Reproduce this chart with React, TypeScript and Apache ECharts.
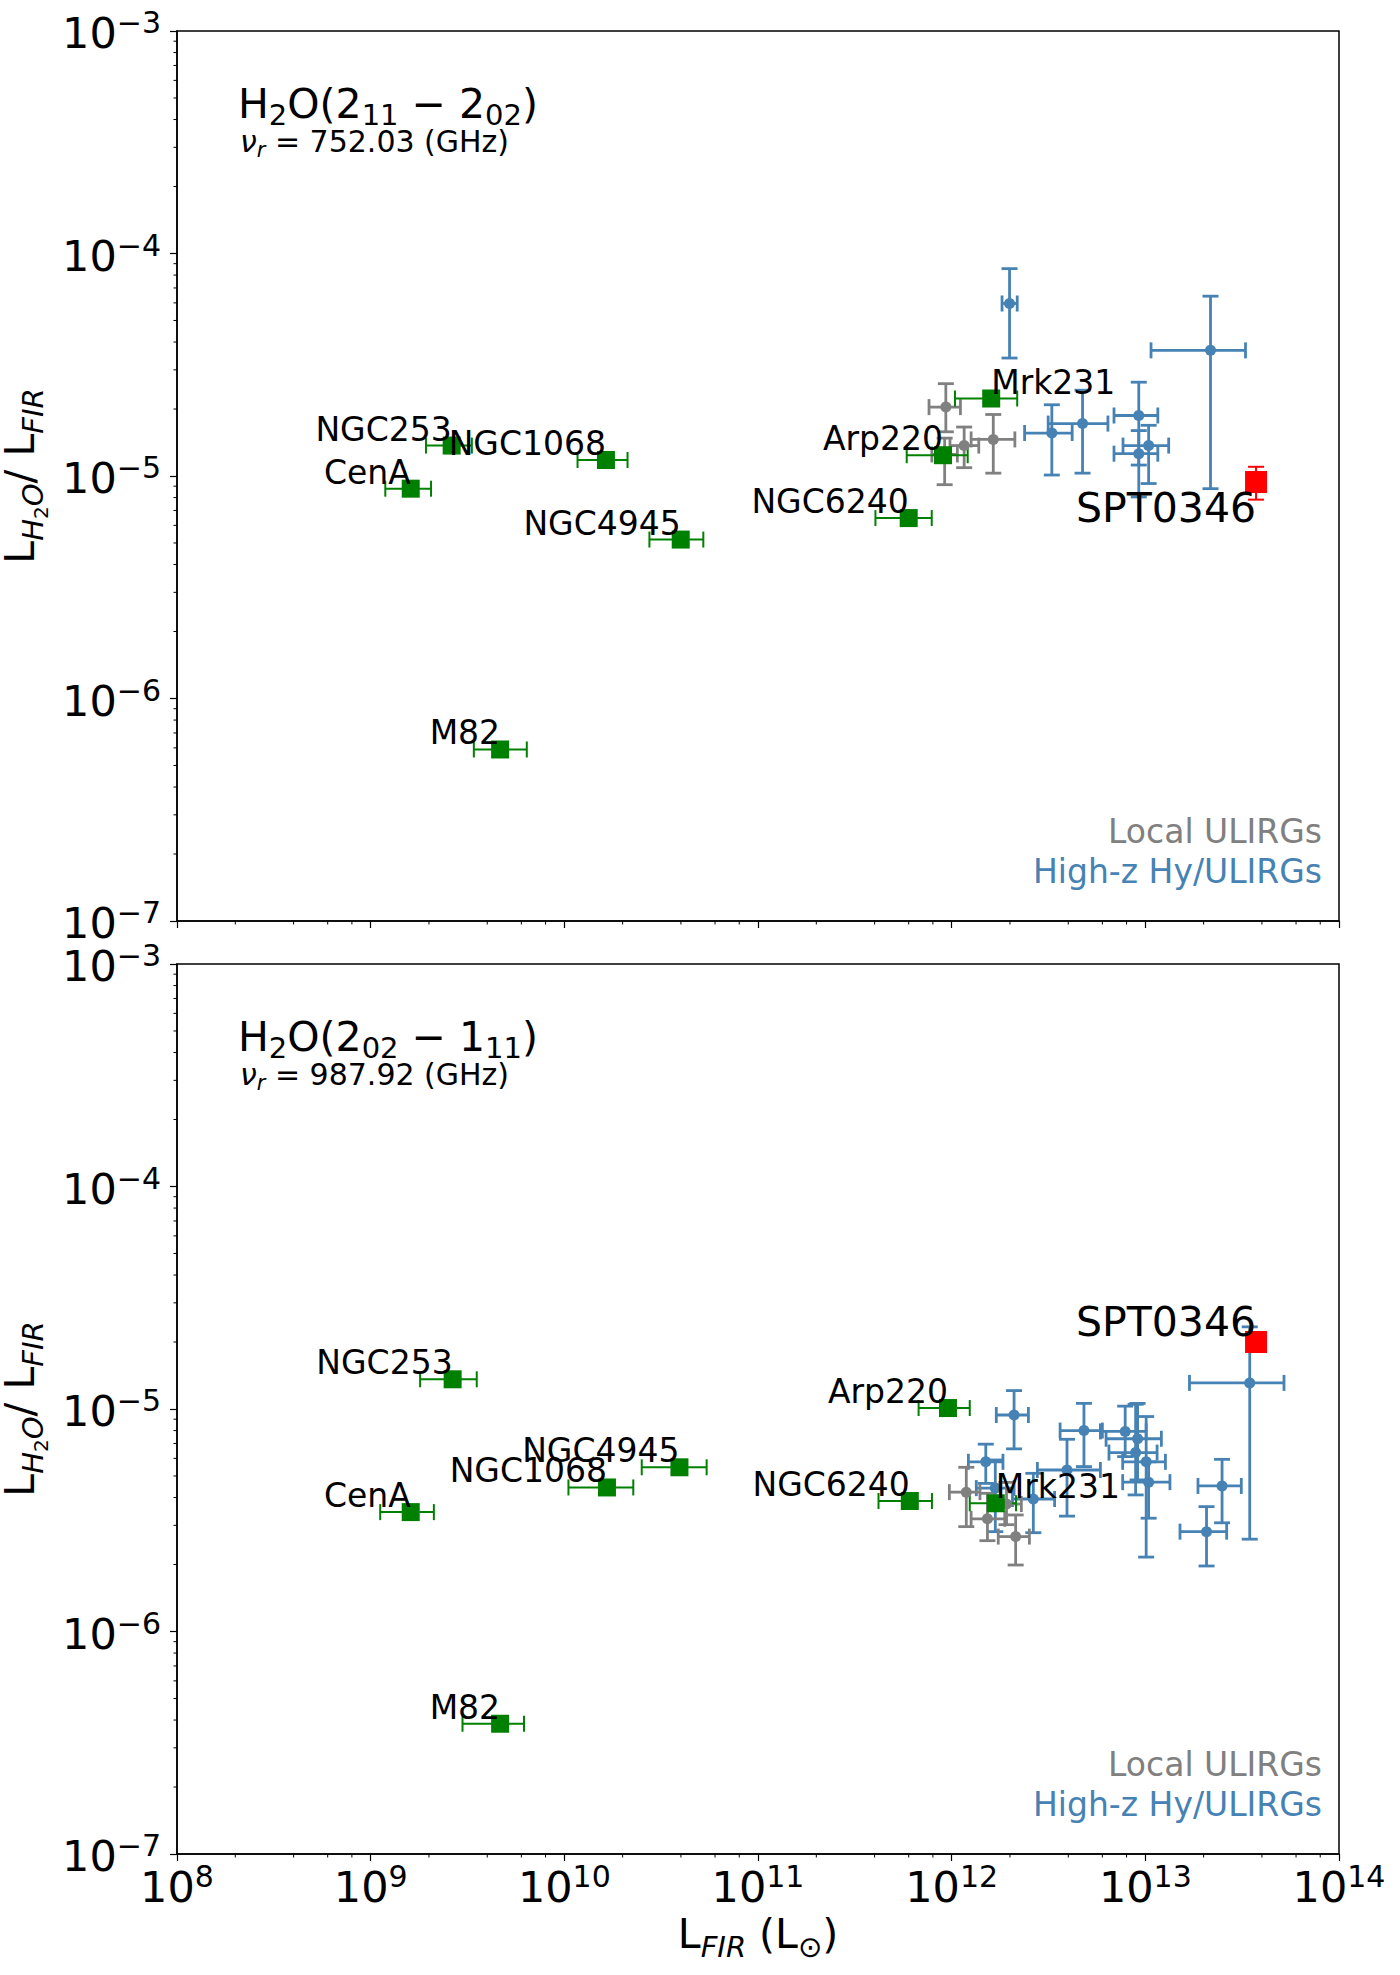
import React, { useEffect, useRef } from 'react';
import * as echarts from 'echarts';

// ---------- data ----------
// Nearby galaxies (green squares), shared name order for both transitions
const localNames = ['NGC253', 'CenA', 'NGC1068', 'NGC4945', 'M82', 'NGC6240', 'Arp220', 'Mrk231'];

// H2O(2_11-2_02), 752.03 GHz
const localLfirA = [2.62e9, 1.61e9, 1.64e10, 3.99e10, 4.66e9, 6.0e11, 9.02e11, 1.6e12];
const localLfirLoA = [1.93e9, 1.19e9, 1.17e10, 2.75e10, 3.41e9, 4.04e11, 5.86e11, 1.04e12];
const localLfirHiA = [3.33e9, 2.05e9, 2.12e10, 5.22e10, 6.4e9, 7.89e11, 1.21e12, 2.18e12];
const localRatioA = [1.37e-5, 8.77e-6, 1.18e-5, 5.18e-6, 5.9e-7, 6.47e-6, 1.24e-5, 2.23e-5];

const ulirgLfirA = [9.33e11, 9.2e11, 1.16e12, 1.64e12];
const ulirgLfirLoA = [7.64e11, 7.9e11, 9.8e11, 1.26e12];
const ulirgLfirHiA = [1.11e12, 1.07e12, 1.38e12, 2.12e12];
const ulirgRatioA = [2.04e-5, 1.25e-5, 1.37e-5, 1.46e-5];
const ulirgRatioLoA = [1.58e-5, 9.14e-6, 1.09e-5, 1.03e-5];
const ulirgRatioHiA = [2.6e-5, 1.48e-5, 1.66e-5, 1.89e-5];

const highzLfirA = [1.99e12, 2.17e13, 9.25e12, 1.04e13, 9.25e12, 4.74e12, 3.29e12];
const highzLfirLoA = [1.82e12, 1.07e13, 6.89e12, 7.67e12, 6.89e12, 3.15e12, 2.38e12];
const highzLfirHiA = [2.18e12, 3.29e13, 1.16e13, 1.32e13, 1.16e13, 6.41e12, 4.19e12];
const highzRatioA = [5.96e-5, 3.67e-5, 1.87e-5, 1.37e-5, 1.26e-5, 1.72e-5, 1.56e-5];
const highzRatioLoA = [3.39e-5, 8.77e-6, 1.12e-5, 9.25e-6, 8.05e-6, 1.03e-5, 1.01e-5];
const highzRatioHiA = [8.55e-5, 6.43e-5, 2.64e-5, 1.69e-5, 1.6e-5, 2.43e-5, 2.09e-5];

const sptLfirA = 3.73e13;
const sptRatioA = 9.4e-6;
const sptRatioLoA = 7.83e-6;
const sptRatioHiA = 1.1e-5;

// H2O(2_02-1_11), 987.92 GHz
const localLfirB = [2.65e9, 1.61e9, 1.66e10, 3.93e10, 4.66e9, 6.08e11, 9.57e11, 1.69e12];
const localLfirLoB = [1.8e9, 1.12e9, 1.05e10, 2.51e10, 2.98e9, 4.19e11, 6.75e11, 1.24e12];
const localLfirHiB = [3.53e9, 2.12e9, 2.27e10, 5.43e10, 6.19e9, 7.91e11, 1.24e12, 2.15e12];
const localRatioB = [1.36e-5, 3.44e-6, 4.44e-6, 5.47e-6, 3.85e-7, 3.86e-6, 1.01e-5, 3.77e-6];

const ulirgLfirB = [1.19e12, 1.53e12, 2.14e12, 1.92e12];
const ulirgLfirLoB = [9.73e11, 1.26e12, 1.74e12, 1.62e12];
const ulirgLfirHiB = [1.4e12, 1.88e12, 2.52e12, 2.29e12];
const ulirgRatioB = [4.23e-6, 3.21e-6, 2.67e-6, 3.74e-6];
const ulirgRatioLoB = [2.96e-6, 2.56e-6, 1.99e-6, 3.02e-6];
const ulirgRatioHiB = [5.47e-6, 4.18e-6, 3.34e-6, 4.68e-6];

const highzLfirB = [3.46e13, 2.49e13, 2.07e13, 1.04e13, 1.01e13, 8.91e12, 9.12e12, 7.87e12, 4.82e12, 3.94e12, 2.1e12, 1.5e12, 1.68e12, 2.64e12];
const highzLfirLoB = [1.69e13, 1.87e13, 1.51e13, 7.64e12, 7.64e12, 6.49e12, 6.27e12, 5.86e12, 3.63e12, 2.77e12, 1.7e12, 1.22e12, 1.34e12, 2.06e12];
const highzLfirHiB = [5.2e13, 3.13e13, 2.63e13, 1.34e13, 1.27e13, 1.15e13, 1.21e13, 1.01e13, 6.0e12, 5.86e12, 2.49e12, 1.84e12, 2.1e12, 3.4e12];
const highzRatioB = [1.31e-5, 4.51e-6, 2.81e-6, 4.69e-6, 5.79e-6, 6.37e-6, 7.35e-6, 7.93e-6, 8.0e-6, 5.32e-6, 9.4e-6, 5.79e-6, 4.41e-6, 3.94e-6];
const highzRatioLoB = [2.6e-6, 3.08e-6, 1.97e-6, 3.23e-6, 2.16e-6, 4.11e-6, 4.8e-6, 6.11e-6, 5.51e-6, 3.3e-6, 6.62e-6, 4.63e-6, 2.81e-6, 2.78e-6];
const highzRatioHiB = [2.34e-5, 5.94e-6, 3.64e-6, 5.79e-6, 9.25e-6, 1.05e-5, 1.06e-5, 1.03e-5, 1.06e-5, 7.31e-6, 1.21e-5, 6.95e-6, 5.9e-6, 5.14e-6];

const sptLfirB = 3.73e13;
const sptRatioB = 2.0e-5;

// Axis structure
const xDecades = [8, 9, 10, 11, 12, 13];
const xMinorMantissas = [2, 4, 6, 8];
const yDecades = [-7, -6, -5, -4];
const yMinorMantissas = [2, 3, 4, 5, 6, 7, 8, 9];
const xRange = [1e8, 1e14];
const yRange = [1e-7, 1e-3];

const lineTitles = ['{b|H}{s|2}{b|O(2}{s|11}{b| − 2}{s|02}{b|)}', '{b|H}{s|2}{b|O(2}{s|02}{b| − 1}{s|11}{b|)}'];
const lineFreqs = ['752.03', '987.92'];

// ---------- styling ----------
const FONT = 'DejaVu Sans';
const GREEN = '#008000';
const BLUE = '#4682b4';
const GREY = '#808080';
const RED = '#ff0000';
const GRID_LEFT = 177;
const GRID_W = 1162;
const GRID_H = 890;
const PANEL_TOPS = [31, 964];

const leftAnchored = new Set(['Mrk231']);

type Row = number[];

function zipRows(x: number[], y: number[], xlo?: number[], xhi?: number[], ylo?: number[], yhi?: number[]): Row[] {
  return x.map((v, i) => [
    v,
    y[i],
    xlo ? xlo[i] : v,
    xhi ? xhi[i] : v,
    ylo ? ylo[i] : y[i],
    yhi ? yhi[i] : y[i],
  ]);
}

function errorRenderer(color: string, width: number, cap: number) {
  return (_params: any, api: any) => {
    const x = api.value(0);
    const y = api.value(1);
    const xlo = api.value(2);
    const xhi = api.value(3);
    const ylo = api.value(4);
    const yhi = api.value(5);
    const style = { stroke: color, lineWidth: width, fill: 'none' };
    const seg = (x1: number, y1: number, x2: number, y2: number) => ({
      type: 'line',
      shape: { x1, y1, x2, y2 },
      style,
    });
    const kids: any[] = [];
    if (xlo !== xhi) {
      const a = api.coord([xlo, y]);
      const b = api.coord([xhi, y]);
      kids.push(seg(a[0], a[1], b[0], b[1]));
      kids.push(seg(a[0], a[1] - cap, a[0], a[1] + cap));
      kids.push(seg(b[0], b[1] - cap, b[0], b[1] + cap));
    }
    if (ylo !== yhi) {
      const a = api.coord([x, ylo]);
      const b = api.coord([x, yhi]);
      kids.push(seg(a[0], a[1], b[0], b[1]));
      kids.push(seg(a[0] - cap, a[1], a[0] + cap, a[1]));
      kids.push(seg(b[0] - cap, b[1], b[0] + cap, b[1]));
    }
    return { type: 'group', children: kids };
  };
}

function errorSeries(idx: number, rows: Row[], color: string, width: number, cap: number) {
  return {
    type: 'custom',
    xAxisIndex: idx,
    yAxisIndex: idx,
    clip: false,
    silent: true,
    encode: { x: 0, y: 1 },
    data: rows,
    renderItem: errorRenderer(color, width, cap),
  };
}

function minorTickSeries(idx: number) {
  const xs: number[][] = [];
  xDecades.forEach((d) => xMinorMantissas.forEach((m) => xs.push([m * Math.pow(10, d), yRange[0]])));
  const ys: number[][] = [];
  yDecades.forEach((d) => yMinorMantissas.forEach((m) => ys.push([xRange[0], m * Math.pow(10, d)])));
  const tick = (dx: number, dy: number) => (_p: any, api: any) => {
    const p = api.coord([api.value(0), api.value(1)]);
    return {
      type: 'line',
      shape: { x1: p[0], y1: p[1], x2: p[0] + dx, y2: p[1] + dy },
      style: { stroke: '#000', lineWidth: 1 },
    };
  };
  return [
    { type: 'custom', xAxisIndex: idx, yAxisIndex: idx, clip: false, silent: true, encode: { x: 0, y: 1 }, data: xs, renderItem: tick(0, 3.5) },
    { type: 'custom', xAxisIndex: idx, yAxisIndex: idx, clip: false, silent: true, encode: { x: 0, y: 1 }, data: ys, renderItem: tick(-3.5, 0) },
  ];
}

function powerLabel(v: number) {
  const e = Math.round(Math.log10(v));
  const s = e < 0 ? '−' + -e : String(e);
  return '{b|10}{p|' + s + '}';
}

const powerRich = {
  b: { fontFamily: FONT, fontSize: 43, color: '#000', verticalAlign: 'top', padding: [4, 0, 0, 0] },
  p: { fontFamily: FONT, fontSize: 30, color: '#000', verticalAlign: 'top' },
};

const nameRich = {
  b: { fontFamily: FONT, fontSize: 41, color: '#000', verticalAlign: 'top' },
  s: { fontFamily: FONT, fontSize: 29, fontStyle: 'italic', color: '#000', verticalAlign: 'top', padding: [19, 0, 0, 0] },
  u: { fontFamily: FONT, fontSize: 29, color: '#000', verticalAlign: 'top', padding: [19, 0, 0, 0] },
  ss: { fontFamily: FONT, fontSize: 20, color: '#000', verticalAlign: 'top', padding: [32, 0, 0, 0] },
};

const titleRich = {
  b: { font: '41px "DejaVu Sans"', fill: '#000', verticalAlign: 'top' },
  s: { font: '29px "DejaVu Sans"', fill: '#000', verticalAlign: 'top', padding: [17, 0, 0, 0] },
};

const freqRich = {
  v: { font: 'italic 30px "DejaVu Sans"', fill: '#000', verticalAlign: 'top' },
  r: { font: 'italic 21px "DejaVu Sans"', fill: '#000', verticalAlign: 'top', padding: [13, 0, 0, 0] },
  t: { font: '30px "DejaVu Sans"', fill: '#000', verticalAlign: 'top' },
};

function buildOption() {
  const panels = [
    {
      localL: localLfirA, localLo: localLfirLoA, localHi: localLfirHiA, localR: localRatioA,
      ulirg: zipRows(ulirgLfirA, ulirgRatioA, ulirgLfirLoA, ulirgLfirHiA, ulirgRatioLoA, ulirgRatioHiA),
      highz: zipRows(highzLfirA, highzRatioA, highzLfirLoA, highzLfirHiA, highzRatioLoA, highzRatioHiA),
      spt: zipRows([sptLfirA], [sptRatioA], undefined, undefined, [sptRatioLoA], [sptRatioHiA]),
      sptAlign: 'top',
      sptPad: [6, 0, 0, 0],
    },
    {
      localL: localLfirB, localLo: localLfirLoB, localHi: localLfirHiB, localR: localRatioB,
      ulirg: zipRows(ulirgLfirB, ulirgRatioB, ulirgLfirLoB, ulirgLfirHiB, ulirgRatioLoB, ulirgRatioHiB),
      highz: zipRows(highzLfirB, highzRatioB, highzLfirLoB, highzLfirHiB, highzRatioLoB, highzRatioHiB),
      spt: zipRows([sptLfirB], [sptRatioB]),
      sptAlign: 'bottom',
      sptPad: [0, 0, 0, 0],
    },
  ];

  const grid = PANEL_TOPS.map((t) => ({
    left: GRID_LEFT,
    top: t,
    width: GRID_W,
    height: GRID_H,
    containLabel: false,
    outerBoundsMode: 'none',
    show: true,
    borderColor: '#000',
    borderWidth: 1.5,
    backgroundColor: 'transparent',
  }));

  const xAxis = PANEL_TOPS.map((_t, i) => ({
    type: 'log',
    logBase: 10,
    gridIndex: i,
    min: xRange[0],
    max: xRange[1],
    splitNumber: 6,
    axisLine: { show: true, lineStyle: { color: '#000', width: 1.5 } },
    axisTick: { show: true, inside: false, length: 7, lineStyle: { color: '#000', width: 1.2 } },
    splitLine: { show: false },
    axisLabel: {
      show: i === 1,
      margin: 7,
      formatter: powerLabel,
      rich: powerRich,
      align: 'center',
    },
    name: i === 1 ? '{b|L}{s|FIR}{b| (L}{u|⊙}{b|)}' : '',
    nameLocation: 'middle',
    nameGap: 59,
    nameTextStyle: { rich: nameRich },
  }));

  const yAxis = PANEL_TOPS.map((_t, i) => ({
    type: 'log',
    logBase: 10,
    gridIndex: i,
    min: yRange[0],
    max: yRange[1],
    splitNumber: 4,
    axisLine: { show: true, lineStyle: { color: '#000', width: 1.5 } },
    axisTick: { show: true, inside: false, length: 7, lineStyle: { color: '#000', width: 1.2 } },
    splitLine: { show: false },
    axisLabel: {
      show: true,
      margin: 16,
      formatter: powerLabel,
      rich: powerRich,
      align: 'right',
    },
    name: '{b|L}{s|H}{ss|2}{s|O}{b|/ L}{s|FIR}',
    nameLocation: 'middle',
    nameRotate: 90,
    nameGap: 116,
    nameTextStyle: { rich: nameRich },
  }));

  const series: any[] = [];
  panels.forEach((p, i) => {
    series.push(...minorTickSeries(i));

    series.push(errorSeries(i, p.highz, BLUE, 2.8, 8));
    series.push({
      type: 'scatter', xAxisIndex: i, yAxisIndex: i, symbol: 'circle', symbolSize: 11,
      itemStyle: { color: BLUE, opacity: 1 }, data: p.highz.map((r) => [r[0], r[1]]), silent: true,
    });

    series.push(errorSeries(i, p.ulirg, GREY, 2.8, 8));
    series.push({
      type: 'scatter', xAxisIndex: i, yAxisIndex: i, symbol: 'circle', symbolSize: 11,
      itemStyle: { color: GREY, opacity: 1 }, data: p.ulirg.map((r) => [r[0], r[1]]), silent: true,
    });

    const localRows = zipRows(p.localL, p.localR, p.localLo, p.localHi);
    series.push(errorSeries(i, localRows, GREEN, 2, 8));
    series.push({
      type: 'scatter', xAxisIndex: i, yAxisIndex: i, symbol: 'rect', symbolSize: 18,
      itemStyle: { color: GREEN, opacity: 1 }, silent: true,
      label: {
        show: true, formatter: '{b}', position: ['50%', '50%'], verticalAlign: 'bottom',
        fontFamily: FONT, fontSize: 33, color: '#000',
      },
      data: localNames.map((n, k) => ({
        name: n,
        value: [p.localL[k], p.localR[k]],
        label: { align: leftAnchored.has(n) ? 'left' : 'right' },
      })),
    });

    series.push(errorSeries(i, p.spt, RED, 2, 8));
    series.push({
      type: 'scatter', xAxisIndex: i, yAxisIndex: i, symbol: 'rect', symbolSize: 22,
      itemStyle: { color: RED, opacity: 1 }, silent: true,
      label: {
        show: true, formatter: '{b}', position: ['50%', '50%'], align: 'right', verticalAlign: p.sptAlign,
        padding: p.sptPad, fontFamily: FONT, fontSize: 41, color: '#000',
      },
      data: [{ name: 'SPT0346', value: [p.spt[0][0], p.spt[0][1]] }],
    });
  });

  const graphic: any[] = [];
  PANEL_TOPS.forEach((t, i) => {
    graphic.push({
      type: 'text', x: 238, y: t + 52, silent: true,
      style: { text: lineTitles[i], rich: titleRich, align: 'left', verticalAlign: 'top', textAlign: 'left', textVerticalAlign: 'top' },
    });
    graphic.push({
      type: 'text', x: 240, y: t + 95, silent: true,
      style: {
        text: '{v|ν}{r|r}{t| = ' + lineFreqs[i] + ' (GHz)}', rich: freqRich,
        align: 'left', verticalAlign: 'top', textAlign: 'left', textVerticalAlign: 'top',
      },
    });
    graphic.push({
      type: 'text', x: 1322, y: t + GRID_H - 90, silent: true,
      style: {
        text: 'Local ULIRGs', font: '33px "DejaVu Sans"', fill: GREY,
        align: 'right', verticalAlign: 'middle', textAlign: 'right', textVerticalAlign: 'middle',
      },
    });
    graphic.push({
      type: 'text', x: 1322, y: t + GRID_H - 50, silent: true,
      style: {
        text: 'High-z Hy/ULIRGs', font: '33px "DejaVu Sans"', fill: BLUE,
        align: 'right', verticalAlign: 'middle', textAlign: 'right', textVerticalAlign: 'middle',
      },
    });
  });

  return {
    animation: false,
    backgroundColor: '#fff',
    textStyle: { fontFamily: FONT },
    grid,
    xAxis,
    yAxis,
    series,
    graphic,
  };
}

export default function App() {
  const ref = useRef<HTMLDivElement>(null);
  useEffect(() => {
    const chart = echarts.init(ref.current as HTMLDivElement, null, { renderer: 'svg' });
    chart.setOption(buildOption() as any);
    return () => chart.dispose();
  }, []);
  return (
    <div
      ref={ref}
      style={{ position: 'absolute', left: 0, top: 0, width: 1400, height: 1975, background: '#fff' }}
    />
  );
}
